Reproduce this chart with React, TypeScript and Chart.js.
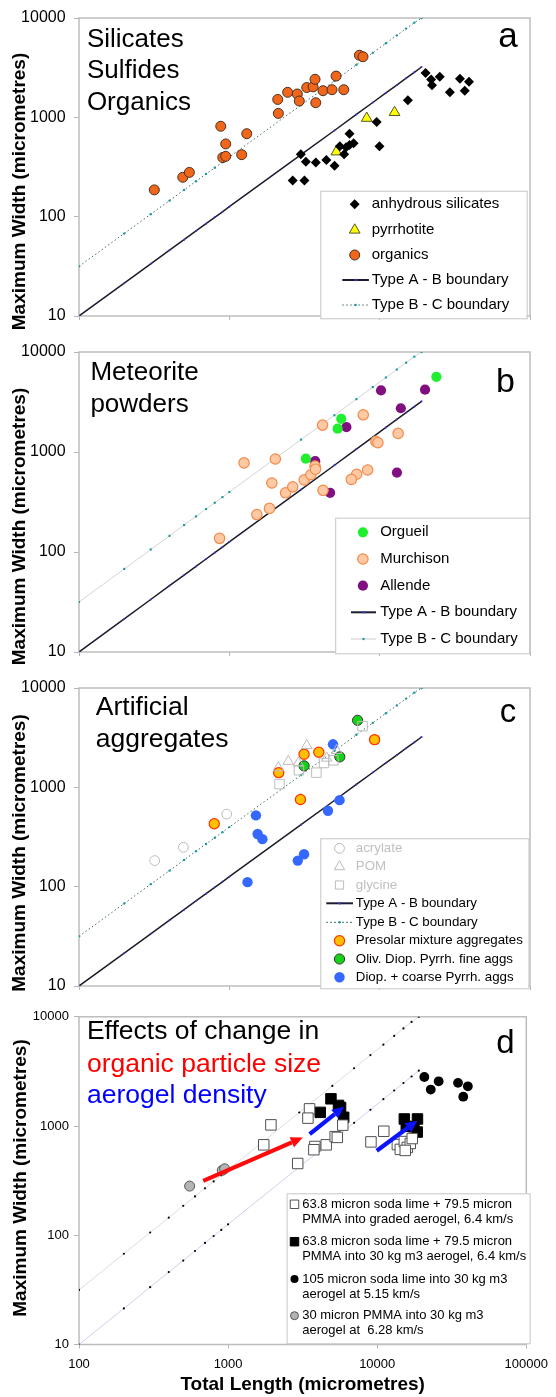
import React, { useEffect, useRef } from "react";
import { Chart, registerables } from "chart.js";
Chart.register(...registerables);

const FONT = "'Liberation Sans', Arial, Helvetica, sans-serif";

// ---------- axis ticks ----------
const xTicks = [100, 1000, 10000, 100000];
const yTicks = [10, 100, 1000, 10000];
const xTickLabels = ["100", "1000", "10000", "100000"];
const yTickLabels = ["10", "100", "1000", "10000"];

// ---------- boundary lines ----------
const boundaryLength = [100, 200, 300, 400, 500, 600, 700, 800, 900, 1000, 3000, 5000, 7000, 9000, 11000, 13000, 15000, 17000, 19000];
const typeABWidth = [10, 21.4, 33.5, 46, 58.7, 71.8, 85.1, 98.5, 112, 126, 421, 737, 1070, 1410, 1760, 2115, 2476, 2841, 3211];
const typeBCWidth = [31.6, 67.7, 106, 145, 186, 227, 269, 311, 354, 398, 1330, 2330, 3380, 4460, 5560, 6680, 7820, 8980, 10000];

// ---------- panel a ----------
const silicatesLength = [2990, 3230, 3760, 4420, 5010, 2640, 3160, 5430, 5800, 5980, 6300, 6300, 6710, 9550, 9970, 15400, 20200, 22000, 22300, 25100, 29300, 34200, 36800, 39300];
const silicatesWidth = [424, 357, 352, 371, 326, 231, 231, 511, 424, 501, 527, 684, 547, 896, 511, 1483, 2800, 2405, 2104, 2559, 1786, 2443, 1853, 2285];
const pyrrhotiteLength = [5150, 8200, 12560];
const pyrrhotiteWidth = [450, 980, 1120];
const organicsLength = [317, 490, 542, 877, 946, 904, 946, 1306, 1208, 2118, 2099, 2443, 2832, 2920, 3273, 3606, 3716, 3758, 4198, 4820, 5130, 5770, 7330, 7745];
const organicsWidth = [186, 249, 279, 813, 540, 394, 405, 684, 421, 1096, 1514, 1786, 1718, 1459, 1995, 2027, 2415, 1403, 1853, 1897, 2601, 1897, 4217, 4074];

// ---------- panel b ----------
const orgueilLength = [5550, 5250, 3230, 23830];
const orgueilWidth = [2148, 1710, 857, 5650];
const murchisonLength = [861, 1524, 1849, 2366, 2640, 1918, 1253, 2024, 3148, 3484, 3715, 3743, 4170, 4200, 7780, 8320, 7030, 6480, 9440, 9730, 13270];
const murchisonWidth = [137, 237, 273, 391, 448, 490, 778, 851, 526, 592, 724, 673, 1858, 414, 2356, 661, 599, 532, 1277, 1239, 1535];
const allendeLength = [10210, 13830, 6010, 3726, 4680, 13030, 20040];
const allendeWidth = [4130, 2738, 1775, 809, 391, 622, 4200];

// ---------- panel c ----------
const acrylateLength = [319, 495, 961];
const acrylateWidth = [183, 249, 538];
const pomLength = [2118, 2466, 2877, 3273, 4443, 5176];
const pomWidth = [1574, 1827, 1758, 2637, 1968, 2355];
const glycineLength = [2157, 2905, 3795, 4265, 4924, 7690];
const glycineWidth = [1079, 1486, 1406, 1758, 1872, 4131];
const presolarLength = [794, 2130, 3141, 3937, 2972, 9250];
const presolarWidth = [430, 1406, 2153, 2254, 754, 3020];
const fineAggLength = [3141, 5430, 7130];
const fineAggWidth = [1645, 2027, 4730];
const coarseAggLength = [1503, 1542, 1660, 1321, 2853, 3141, 4530, 5410, 4895];
const coarseAggWidth = [522, 339, 301, 111, 183, 212, 581, 743, 2711];

// ---------- panel d ----------
const gradedLength = [1937, 1734, 2930, 3516, 3430, 3818, 3760, 4550, 5225, 5400, 5875, 9080, 11070, 13650, 14290, 15200, 15920, 16670, 15420, 17180];
const gradedWidth = [1025, 673, 454, 1436, 1181, 650, 607, 673, 800, 787, 1019, 716, 896, 677, 611, 721, 637, 692, 598, 768];
const dense30Length = [4895, 5500, 5680, 4150, 5960, 15200, 18620, 18550, 15670, 17620];
const dense30Width = [1775, 1545, 1479, 1334, 1202, 1161, 1161, 881, 993, 984];
const sodaLimeLength = [20700, 25830, 22860, 34830, 40550, 37760];
const sodaLimeWidth = [2812, 2566, 2158, 2484, 2311, 1857];
const pmmaLength = [552, 914, 948];
const pmmaWidth = [282, 393, 406];
const redArrowLength = [681, 3170];
const redArrowWidth = [315, 785];
const blueArrow1Length = [3524, 5998];
const blueArrow1Width = [845, 1503];
const blueArrow2Length = [9930, 18620];
const blueArrow2Width = [594, 1120];

// ---------- styles ----------
type PStyle = { style: string; r: number; fill: string; stroke: string; bw: number };
type LStyle = { color: string; width: number; dash: number[]; dotR: number; dotColor: string; dotStyle?: string };

const S: Record<string, PStyle> = {
  silicate: { style: "rectRot", r: 5, fill: "#000000", stroke: "#000000", bw: 0 },
  pyrrhotite: { style: "triangle", r: 6.2, fill: "#FFFF00", stroke: "#55552a", bw: 1 },
  organic: { style: "circle", r: 5, fill: "#F0661A", stroke: "#4a3020", bw: 1 },
  orgueil: { style: "circle", r: 5.1, fill: "#1FEF2F", stroke: "#1FEF2F", bw: 0 },
  murchison: { style: "circle", r: 5.2, fill: "#FFC9A3", stroke: "#F28A4C", bw: 1.2 },
  allende: { style: "circle", r: 5.1, fill: "#80107F", stroke: "#80107F", bw: 0 },
  acrylate: { style: "circle", r: 4.9, fill: "rgba(255,255,255,0)", stroke: "#bcbcbc", bw: 1 },
  pom: { style: "triangle", r: 6, fill: "rgba(255,255,255,0)", stroke: "#bcbcbc", bw: 1 },
  glycine: { style: "rect", r: 6.7, fill: "rgba(255,255,255,0)", stroke: "#bcbcbc", bw: 1 },
  presolar: { style: "circle", r: 5.1, fill: "#FFC000", stroke: "#FF3000", bw: 1.2 },
  fineAgg: { style: "circle", r: 5.1, fill: "#14D214", stroke: "#333333", bw: 1 },
  coarseAgg: { style: "circle", r: 5.2, fill: "#3468FF", stroke: "#3468FF", bw: 0 },
  graded: { style: "rect", r: 7.4, fill: "#FFFFFF", stroke: "#505050", bw: 1 },
  dense30: { style: "rect", r: 7.4, fill: "#000000", stroke: "#000000", bw: 1 },
  sodaLime: { style: "circle", r: 4.9, fill: "#000000", stroke: "#000000", bw: 0 },
  pmma: { style: "circle", r: 5, fill: "#B4B4B4", stroke: "#555555", bw: 1 },
};

const L: Record<string, LStyle> = {
  ab: { color: "#1b1b2c", width: 1.5, dash: [], dotR: 1, dotColor: "#3a3acc" },
  bcDotted: { color: "#3f6a6a", width: 1, dash: [1.5, 2.5], dotR: 1.2, dotColor: "#1a9a9a" },
  bcGray: { color: "#d4d4d4", width: 1, dash: [], dotR: 1.5, dotColor: "#1a9a9a", dotStyle: "rect" },
  dLower: { color: "#cfd0ee", width: 1, dash: [], dotR: 1.1, dotColor: "#000000" },
  dUpper: { color: "#d8dde6", width: 1, dash: [], dotR: 1.1, dotColor: "#000000" },
};

const pts = (xs: number[], ys: number[]) => xs.map((x, i) => ({ x, y: ys[i] }));

function pointSet(label: string, xs: number[], ys: number[], o: PStyle) {
  return {
    label,
    data: pts(xs, ys),
    showLine: false,
    pointStyle: o.style,
    pointRadius: o.r,
    pointHoverRadius: o.r,
    pointBackgroundColor: o.fill,
    pointBorderColor: o.stroke,
    pointBorderWidth: o.bw,
    order: 1,
  };
}

function lineSet(label: string, xs: number[], ys: number[], o: LStyle) {
  return {
    label,
    data: pts(xs, ys),
    showLine: true,
    borderColor: o.color,
    borderWidth: o.width,
    borderDash: o.dash,
    pointStyle: o.dotStyle || "circle",
    pointRadius: o.dotR,
    pointHoverRadius: o.dotR,
    pointBackgroundColor: o.dotColor,
    pointBorderWidth: 0,
    fill: false,
    order: 10,
  };
}

// ---------- drawing helpers ----------
function drawSymbol(ctx: CanvasRenderingContext2D, o: PStyle, x: number, y: number) {
  const r = o.r;
  ctx.beginPath();
  if (o.style === "circle") ctx.arc(x, y, r, 0, Math.PI * 2);
  else if (o.style === "rectRot") {
    ctx.moveTo(x, y - r); ctx.lineTo(x + r, y); ctx.lineTo(x, y + r); ctx.lineTo(x - r, y); ctx.closePath();
  } else if (o.style === "triangle") {
    ctx.moveTo(x, y - r); ctx.lineTo(x + r * 0.866, y + r * 0.5); ctx.lineTo(x - r * 0.866, y + r * 0.5); ctx.closePath();
  } else {
    const h = r * Math.SQRT1_2; ctx.rect(x - h, y - h, 2 * h, 2 * h);
  }
  ctx.fillStyle = o.fill; ctx.fill();
  if (o.bw > 0) { ctx.strokeStyle = o.stroke; ctx.lineWidth = o.bw; ctx.stroke(); }
}

function drawLineSample(ctx: CanvasRenderingContext2D, o: LStyle, x1: number, x2: number, y: number) {
  ctx.save();
  ctx.strokeStyle = o.color; ctx.lineWidth = o.width === 1.5 ? 2 : 1.2; ctx.setLineDash(o.dash);
  ctx.beginPath(); ctx.moveTo(x1, y); ctx.lineTo(x2, y); ctx.stroke();
  ctx.setLineDash([]);
  ctx.fillStyle = o.dotColor; ctx.beginPath(); ctx.arc((x1 + x2) / 2, y, 1.2, 0, Math.PI * 2); ctx.fill();
  ctx.restore();
}

type TextItem = { t: string; x: number; y: number; size: number; color?: string; align?: CanvasTextAlign };
type LegendItem = { y: number; text: string[]; color?: string; sym?: PStyle; line?: LStyle };
type Legend = { box: number[]; font: number; symX: number; textX: number; lineX: number[]; lh: number; items: LegendItem[] };
type Arrow = { xs: number[]; ys: number[]; color: string };

type Spec = {
  top: number; height: number; padTop: number; xAxisHeight: number; showX: boolean;
  tickFont: number; yTickLen: number; yTickPad: number;
  yTitle: number[]; datasets: any[]; texts: TextItem[]; legend: Legend; arrows?: Arrow[];
};

function makeOverlay(spec: Spec) {
  return {
    id: "overlay",
    beforeDatasetsDraw(chart: any) {
      const { ctx, chartArea: a } = chart;
      ctx.save();
      ctx.strokeStyle = "#bdbdbd"; ctx.lineWidth = 1.5;
      ctx.strokeRect(a.left, a.top, a.right - a.left, a.bottom - a.top);
      ctx.restore();
    },
    afterDatasetsDraw(chart: any) {
      const { ctx } = chart;
      const sx = chart.scales.x, sy = chart.scales.y;
      ctx.save();
      // arrows
      (spec.arrows || []).forEach((ar) => {
        const x1 = sx.getPixelForValue(ar.xs[0]), y1 = sy.getPixelForValue(ar.ys[0]);
        const x2 = sx.getPixelForValue(ar.xs[1]), y2 = sy.getPixelForValue(ar.ys[1]);
        const ang = Math.atan2(y2 - y1, x2 - x1);
        const hl = 12, hw = 11;
        const bx = x2 - hl * Math.cos(ang), by = y2 - hl * Math.sin(ang);
        ctx.strokeStyle = ar.color; ctx.lineWidth = 4.2; ctx.lineCap = "butt";
        ctx.beginPath(); ctx.moveTo(x1, y1); ctx.lineTo(bx, by); ctx.stroke();
        ctx.fillStyle = ar.color; ctx.beginPath();
        ctx.moveTo(x2, y2);
        ctx.lineTo(bx + (hw / 2) * Math.sin(ang), by - (hw / 2) * Math.cos(ang));
        ctx.lineTo(bx - (hw / 2) * Math.sin(ang), by + (hw / 2) * Math.cos(ang));
        ctx.closePath(); ctx.fill();
      });
      // panel texts
      spec.texts.forEach((t) => {
        ctx.font = `${t.size}px ${FONT}`;
        ctx.fillStyle = t.color || "#000";
        ctx.textAlign = t.align || "left";
        ctx.textBaseline = "alphabetic";
        ctx.fillText(t.t, t.x, t.y);
      });
      // y title
      ctx.save();
      ctx.translate(spec.yTitle[0], spec.yTitle[1]);
      ctx.rotate(-Math.PI / 2);
      ctx.font = `bold 19px ${FONT}`;
      ctx.fillStyle = "#000"; ctx.textAlign = "center"; ctx.textBaseline = "middle";
      ctx.fillText("Maximum Width (micrometres)", 0, 0);
      ctx.restore();
      // legend
      const lg = spec.legend;
      const [bx1, by1, bx2, by2] = lg.box;
      ctx.fillStyle = "#fff"; ctx.fillRect(bx1, by1, bx2 - bx1, by2 - by1);
      ctx.strokeStyle = "#c6c6c6"; ctx.lineWidth = 1; ctx.strokeRect(bx1 + 0.5, by1 + 0.5, bx2 - bx1, by2 - by1);
      lg.items.forEach((it) => {
        if (it.sym) drawSymbol(ctx, it.sym, lg.symX, it.y);
        if (it.line) drawLineSample(ctx, it.line, lg.lineX[0], lg.lineX[1], it.y);
        ctx.font = `${lg.font}px ${FONT}`;
        ctx.fillStyle = it.color || "#000"; ctx.textAlign = "left"; ctx.textBaseline = "middle";
        it.text.forEach((s, i) => ctx.fillText(s, lg.textX, it.y + i * lg.lh));
      });
      ctx.restore();
    },
  };
}

function buildConfig(spec: Spec): any {
  return {
    type: "scatter",
    data: { datasets: spec.datasets },
    options: {
      animation: false,
      responsive: false,
      devicePixelRatio: 1,
      layout: { padding: { top: spec.padTop, right: 26, bottom: 0, left: 0 } },
      plugins: { legend: { display: false }, tooltip: { enabled: false } },
      scales: {
        x: {
          type: "logarithmic", min: 100, max: 100000,
          afterBuildTicks: (s: any) => { s.ticks = xTicks.map((v) => ({ value: v })); },
          afterFit: (s: any) => { s.height = spec.xAxisHeight; },
          border: { display: false },
          grid: { display: true, drawOnChartArea: false, drawTicks: true, tickLength: 4, color: "#b5b5b5", lineWidth: 1 },
          ticks: { display: spec.showX, padding: 8, color: "#000", font: { family: FONT, size: 13 }, maxRotation: 0, autoSkip: false, callback: (_v: any, i: number) => xTickLabels[i] },
          title: { display: spec.showX, text: "Total Length (micrometres)", color: "#000", font: { family: FONT, size: 19, weight: "bold" }, padding: { top: 0, bottom: 0.5 } },
        },
        y: {
          type: "logarithmic", min: 10, max: 10000,
          afterBuildTicks: (s: any) => { s.ticks = yTicks.map((v) => ({ value: v })); },
          afterFit: (s: any) => { s.width = 79; },
          border: { display: false },
          grid: { display: true, drawOnChartArea: false, drawTicks: true, tickLength: spec.yTickLen, color: "#b5b5b5", lineWidth: 1 },
          ticks: { padding: spec.yTickPad, color: "#000", font: { family: FONT, size: spec.tickFont }, autoSkip: false, callback: (_v: any, i: number) => yTickLabels[i] },
        },
      },
    },
    plugins: [makeOverlay(spec)],
  };
}

// ---------- panel specs ----------
const specA: Spec = {
  top: 0, height: 334, padTop: 13.3, xAxisHeight: 13.3, showX: false, tickFont: 16, yTickLen: 5, yTickPad: 8.4,
  yTitle: [19.5, 191.5],
  datasets: [
    lineSet("Type A - B boundary", boundaryLength, typeABWidth, L.ab),
    lineSet("Type B - C boundary", boundaryLength, typeBCWidth, L.bcDotted),
    pointSet("anhydrous silicates", silicatesLength, silicatesWidth, S.silicate),
    pointSet("pyrrhotite", pyrrhotiteLength, pyrrhotiteWidth, S.pyrrhotite),
    pointSet("organics", organicsLength, organicsWidth, S.organic),
  ],
  texts: [
    { t: "Silicates", x: 86.9, y: 46.7, size: 26 },
    { t: "Sulfides", x: 86.9, y: 78.3, size: 26 },
    { t: "Organics", x: 86.9, y: 110, size: 26 },
    { t: "a", x: 508, y: 46.7, size: 35, align: "center" },
  ],
  legend: {
    box: [320.3, 190.7, 526.7, 318.3], font: 15, symX: 354.7, textX: 371.7, lineX: [342.3, 368.9], lh: 0,
    items: [
      { y: 204.3, text: ["anhydrous silicates"], sym: S.silicate },
      { y: 230, text: ["pyrrhotite"], sym: S.pyrrhotite },
      { y: 255, text: ["organics"], sym: S.organic },
      { y: 280, text: ["Type A - B boundary"], line: L.ab },
      { y: 305, text: ["Type B - C boundary"], line: L.bcDotted },
    ],
  },
};

const specB: Spec = {
  top: 334, height: 336, padTop: 13.3, xAxisHeight: 15, showX: false, tickFont: 16, yTickLen: 5, yTickPad: 8.4,
  yTitle: [19.5, 192.5],
  datasets: [
    lineSet("Type A - B boundary", boundaryLength, typeABWidth, L.ab),
    lineSet("Type B - C boundary", boundaryLength, typeBCWidth, L.bcGray),
    pointSet("Murchison", murchisonLength, murchisonWidth, S.murchison),
    pointSet("Orgueil", orgueilLength, orgueilWidth, S.orgueil),
    pointSet("Allende", allendeLength, allendeWidth, S.allende),
  ],
  texts: [
    { t: "Meteorite", x: 90.4, y: 46, size: 26 },
    { t: "powders", x: 90.4, y: 77.7, size: 26 },
    { t: "b", x: 505.5, y: 57.7, size: 34, align: "center" },
  ],
  legend: {
    box: [335.2, 183.7, 529.2, 319.3], font: 15, symX: 362.9, textX: 380.2, lineX: [351, 376], lh: 0,
    items: [
      { y: 198.3, text: ["Orgueil"], sym: S.orgueil },
      { y: 225, text: ["Murchison"], sym: S.murchison },
      { y: 251.7, text: ["Allende"], sym: S.allende },
      { y: 278.3, text: ["Type A - B boundary"], line: L.ab },
      { y: 305, text: ["Type B - C boundary"], line: L.bcGray },
    ],
  },
};

const specC: Spec = {
  top: 670, height: 334, padTop: 12.7, xAxisHeight: 14, showX: false, tickFont: 16, yTickLen: 5, yTickPad: 8.4,
  yTitle: [19.5, 183],
  datasets: [
    lineSet("Type A - B boundary", boundaryLength, typeABWidth, L.ab),
    lineSet("Type B - C boundary", boundaryLength, typeBCWidth, L.bcDotted),
    pointSet("acrylate", acrylateLength, acrylateWidth, S.acrylate),
    pointSet("POM", pomLength, pomWidth, S.pom),
    pointSet("glycine", glycineLength, glycineWidth, S.glycine),
    pointSet("Diop. + coarse Pyrrh. aggs", coarseAggLength, coarseAggWidth, S.coarseAgg),
    pointSet("Presolar mixture aggregates", presolarLength, presolarWidth, S.presolar),
    pointSet("Oliv. Diop. Pyrrh. fine aggs", fineAggLength, fineAggWidth, S.fineAgg),
  ],
  texts: [
    { t: "Artificial", x: 95.8, y: 45, size: 26.5 },
    { t: "aggregates", x: 95.8, y: 76.7, size: 26.5 },
    { t: "c", x: 508, y: 51.7, size: 33, align: "center" },
  ],
  legend: {
    box: [320.3, 168.3, 528.5, 318.3], font: 13.3, symX: 339.5, textX: 355.8, lineX: [326.3, 353], lh: 0,
    items: [
      { y: 178.3, text: ["acrylate"], sym: S.acrylate, color: "#c0c0c0" },
      { y: 196.7, text: ["POM"], sym: S.pom, color: "#c0c0c0" },
      { y: 215, text: ["glycine"], sym: { ...S.glycine, r: 5.8 }, color: "#c0c0c0" },
      { y: 233.3, text: ["Type A - B boundary"], line: L.ab },
      { y: 252.3, text: ["Type B - C boundary"], line: L.bcDotted },
      { y: 270.7, text: ["Presolar mixture aggregates"], sym: S.presolar },
      { y: 289, text: ["Oliv. Diop. Pyrrh. fine aggs"], sym: S.fineAgg },
      { y: 307.3, text: ["Diop. + coarse Pyrrh. aggs"], sym: S.coarseAgg },
    ],
  },
};

const specD: Spec = {
  top: 1004, height: 393, padTop: 7, xAxisHeight: 52.5, showX: true, tickFont: 13, yTickLen: 5, yTickPad: 5,
  yTitle: [21, 174],
  datasets: [
    lineSet("lower boundary", boundaryLength, typeABWidth, L.dLower),
    lineSet("upper boundary", boundaryLength, typeBCWidth, L.dUpper),
    pointSet("graded", gradedLength, gradedWidth, S.graded),
    pointSet("30 kg m3", dense30Length, dense30Width, S.dense30),
    pointSet("105 micron", sodaLimeLength, sodaLimeWidth, S.sodaLime),
    pointSet("PMMA", pmmaLength, pmmaWidth, S.pmma),
  ],
  arrows: [
    { xs: redArrowLength, ys: redArrowWidth, color: "#FF0A0A" },
    { xs: blueArrow1Length, ys: blueArrow1Width, color: "#0A14FF" },
    { xs: blueArrow2Length, ys: blueArrow2Width, color: "#0A14FF" },
  ],
  texts: [
    { t: "Effects of change in", x: 86.9, y: 35.3, size: 26.5 },
    { t: "organic particle size", x: 86.9, y: 67.7, size: 26.5, color: "#FF0000" },
    { t: "aerogel density", x: 86.9, y: 99.3, size: 26.5, color: "#0000FF" },
    { t: "d", x: 505.5, y: 49.3, size: 33, align: "center" },
  ],
  legend: {
    box: [286.6, 189.3, 529.6, 339.3], font: 13, symX: 294.5, textX: 302.2, lineX: [0, 0], lh: 15,
    items: [
      { y: 200.3, text: ["63.8 micron soda lime + 79.5 micron", "PMMA into graded aerogel, 6.4 km/s"], sym: { ...S.graded, r: 6 } },
      { y: 237.7, text: ["63.8 micron soda lime + 79.5 micron", "PMMA into 30 kg m3 aerogel, 6.4 km/s"], sym: { ...S.dense30, r: 6 } },
      { y: 275, text: ["105 micron soda lime into 30 kg m3", "aerogel at 5.15 km/s"], sym: { ...S.sodaLime, r: 4 } },
      { y: 311.7, text: ["30 micron PMMA into 30 kg m3", "aerogel at  6.28 km/s"], sym: { ...S.pmma, r: 4 } },
    ],
  },
};

function Panel({ spec }: { spec: Spec }) {
  const ref = useRef<HTMLCanvasElement>(null);
  useEffect(() => {
    const chart = new Chart(ref.current as HTMLCanvasElement, buildConfig(spec));
    return () => chart.destroy();
  }, [spec]);
  return (
    <canvas
      ref={ref}
      width={556}
      height={spec.height}
      style={{ position: "absolute", left: 0, top: spec.top, width: 556, height: spec.height }}
    />
  );
}

export default function App() {
  return (
    <div style={{ position: "absolute", left: 0, top: 0, width: 556, height: 1397, background: "#fff", overflow: "hidden" }}>
      <Panel spec={specA} />
      <Panel spec={specB} />
      <Panel spec={specC} />
      <Panel spec={specD} />
    </div>
  );
}
